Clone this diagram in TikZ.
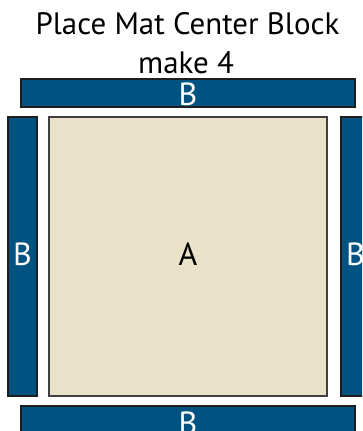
\documentclass[tikz,border=0pt]{standalone}
\usepackage{fontspec}
\setmainfont{PT Sans}
\definecolor{pmblue}{RGB}{0,82,128}
\definecolor{pmbeige}{RGB}{233,225,200}
\definecolor{pmedge}{RGB}{30,30,30}

\begin{document}
\begin{tikzpicture}[
    x=0.75pt, y=-0.75pt,
    bar/.style={draw=pmedge, fill=pmblue, line width=0.8pt},
    sq/.style={draw=black!75, fill=pmbeige, line width=1.1pt},
    lbl/.style={anchor=base, inner sep=0pt, font=\fontsize{24}{28}\selectfont},
    ttl/.style={anchor=base, inner sep=0pt, font=\fontsize{23.2}{28}\selectfont},
  ]
  \useasboundingbox (0,0) rectangle (362,431);
  \clip (0,0) rectangle (362,431);

  % title
  \node[ttl] (t1) at (187.5,35) {Place Mat Center Block};
  \node[ttl] (t2) at (186,74) {make 4};

  % border strips
  \draw[bar] (21,79)  rectangle (355,107);
  \draw[bar] (21,406) rectangle (355,434);
  \draw[bar] (8,117)  rectangle (37,396);
  \draw[bar] (341,117) rectangle (370,396);

  % center square
  \draw[sq] (49,117) rectangle (327,396);

  \node[lbl, white] (bT) at (188,106) {B};
  \node[lbl, white] (bB) at (188,434) {B};
  \node[lbl, white] (bL) at (22.5,265) {B};
  \node[lbl, white] (bR) at (355.5,265) {B};
  \node[lbl] (a) at (188,265.5) {A};

\end{tikzpicture}
\end{document}
